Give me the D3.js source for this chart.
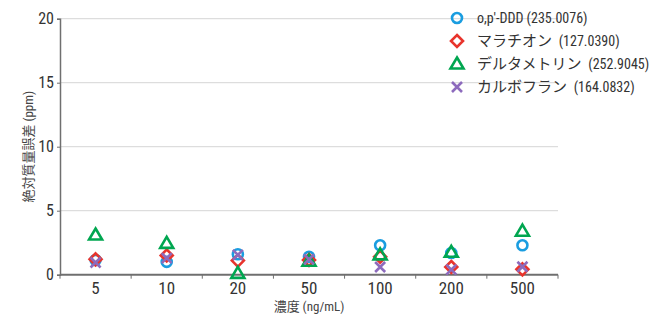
<!DOCTYPE html>
<html>
<head>
<meta charset="utf-8">
<script src="https://cdn.jsdelivr.net/npm/d3@7"></script>
<style>
  html, body { margin: 0; padding: 0; background: #fff; }
  svg { display: block; }
  .num { font-family: 'Roboto Condensed', 'Noto Sans CJK JP', sans-serif; }
</style>
</head>
<body>
<svg id="chart" width="657" height="320"></svg>
<script>
// Concentration levels (ng/mL)
const categories = ["5", "10", "20", "50", "100", "200", "500"];

// Absolute mass error (ppm) per compound at each concentration
const seriesNames = [
  "o,p′-DDD (235.0076)",
  "マラチオン (127.0390)",
  "デルタメトリン (252.9045)",
  "カルボフラン (164.0832)"
];
const dddValues        = [1.15, 1.0, 1.6, 1.4, 2.3, 1.7, 2.3];
const malathionValues  = [1.2, 1.5, 1.1, 1.15, 1.4, 0.6, 0.42];
const deltaValues      = [3.1, 2.45, 0.1, 1.05, 1.55, 1.75, 3.4];
const carbofuranValues = [0.95, 1.3, 1.55, 1.2, 0.6, 0.4, 0.62];

const yTicks = [0, 5, 10, 15, 20];

const colors = ["#1a9de0", "#e8342c", "#00a650", "#8d6bbd"];
const shapes = ["circle", "diamond", "triangle", "cross"];
const seriesValues = [dddValues, malathionValues, deltaValues, carbofuranValues];

const svg = d3.select("#chart");
const margin = { left: 60, right: 99, top: 18.7, bottom: 45.3 };
const width = 657, height = 320;

const x = d3.scaleBand().domain(categories)
  .range([margin.left, width - margin.right]).padding(0);
const y = d3.scaleLinear().domain([0, 20])
  .range([height - margin.bottom, margin.top]);

// Horizontal gridlines
svg.append("g").selectAll("line")
  .data(yTicks.filter(d => d > 0))
  .join("line")
  .attr("x1", margin.left).attr("x2", width - margin.right)
  .attr("y1", d => y(d)).attr("y2", d => y(d))
  .attr("stroke", "#d6d6d6").attr("stroke-width", 1);

// Y axis
const yAxis = svg.append("g")
  .attr("transform", `translate(${margin.left},0)`)
  .call(d3.axisLeft(y).tickValues(yTicks).tickSize(3).tickPadding(3));
yAxis.select(".domain").attr("stroke", "#6f6f6f").attr("stroke-width", 1.5);
yAxis.selectAll(".tick line").attr("stroke", "#6f6f6f");
yAxis.selectAll("text").attr("class", "num").attr("font-size", 16).attr("fill", "#333");

// X axis with boundary ticks between bands
const xAxisG = svg.append("g").attr("transform", `translate(0,${y(0)})`);
xAxisG.append("line")
  .attr("x1", margin.left).attr("x2", width - margin.right)
  .attr("stroke", "#6f6f6f").attr("stroke-width", 2);
const bounds = categories.map(c => x(c)).concat([x(categories[categories.length - 1]) + x.bandwidth()]);
xAxisG.selectAll(".bt").data(bounds).join("line")
  .attr("x1", d => d).attr("x2", d => d)
  .attr("y1", 0).attr("y2", 4)
  .attr("stroke", "#6f6f6f").attr("stroke-width", 1);
xAxisG.selectAll("text").data(categories).join("text")
  .attr("class", "num")
  .attr("x", d => x(d) + x.bandwidth() / 2)
  .attr("y", 19)
  .attr("text-anchor", "middle")
  .attr("font-size", 17).attr("fill", "#333")
  .text(d => d);

// Axis titles
svg.append("text").attr("class", "num")
  .attr("transform", `translate(33,${(y(0) + y(20)) / 2}) rotate(-90)`)
  .attr("text-anchor", "middle")
  .attr("font-size", 13).attr("fill", "#444")
  .text("絶対質量誤差 (ppm)");
svg.append("text").attr("class", "num")
  .attr("x", (margin.left + width - margin.right) / 2)
  .attr("y", 311)
  .attr("text-anchor", "middle")
  .attr("font-size", 13).attr("fill", "#444")
  .text("濃度 (ng/mL)");

// Marker drawing helpers
function marker(g, shape, color) {
  if (shape === "circle") {
    g.append("circle").attr("r", 5).attr("fill", "none")
      .attr("stroke", color).attr("stroke-width", 2.6);
  } else if (shape === "diamond") {
    g.append("path").attr("d", "M0,-6L6,0L0,6L-6,0Z").attr("fill", "none")
      .attr("stroke", color).attr("stroke-width", 2.6);
  } else if (shape === "triangle") {
    g.append("path").attr("d", "M0,-6.5L6.5,4.5L-6.5,4.5Z").attr("fill", "none")
      .attr("stroke", color).attr("stroke-width", 2.6);
  } else {
    g.append("path").attr("d", "M-5,-5L5,5M5,-5L-5,5").attr("fill", "none")
      .attr("stroke", color).attr("stroke-width", 2.6);
  }
}

// Data points
seriesValues.forEach((vals, i) => {
  svg.append("g").selectAll("g")
    .data(vals.map((v, j) => ({ cat: categories[j], v })))
    .join("g")
    .attr("transform", d => `translate(${x(d.cat) + x.bandwidth() / 2},${y(d.v)})`)
    .each(function () { marker(d3.select(this), shapes[i], colors[i]); });
});

// Legend: Japanese names set slightly larger than the Latin/numeric part
const legend = svg.append("g").attr("transform", "translate(457,18)");
seriesNames.forEach((name, i) => {
  const row = legend.append("g").attr("transform", `translate(0,${i * 23})`);
  marker(row, shapes[i], colors[i]);
  const [, jpPart, rest] = name.match(/^([^\x00-\x7F]*\s?)(.*)$/);
  const t = row.append("text").attr("class", "num")
    .attr("x", 20).attr("y", 5)
    .style("white-space", "pre")
    .attr("font-size", 14).attr("fill", "#333");
  if (jpPart) t.append("tspan").attr("font-size", 15).text(jpPart.replace(/\s$/, "\u2002"));
  t.append("tspan").text(rest);
});
</script>
</body>
</html>
